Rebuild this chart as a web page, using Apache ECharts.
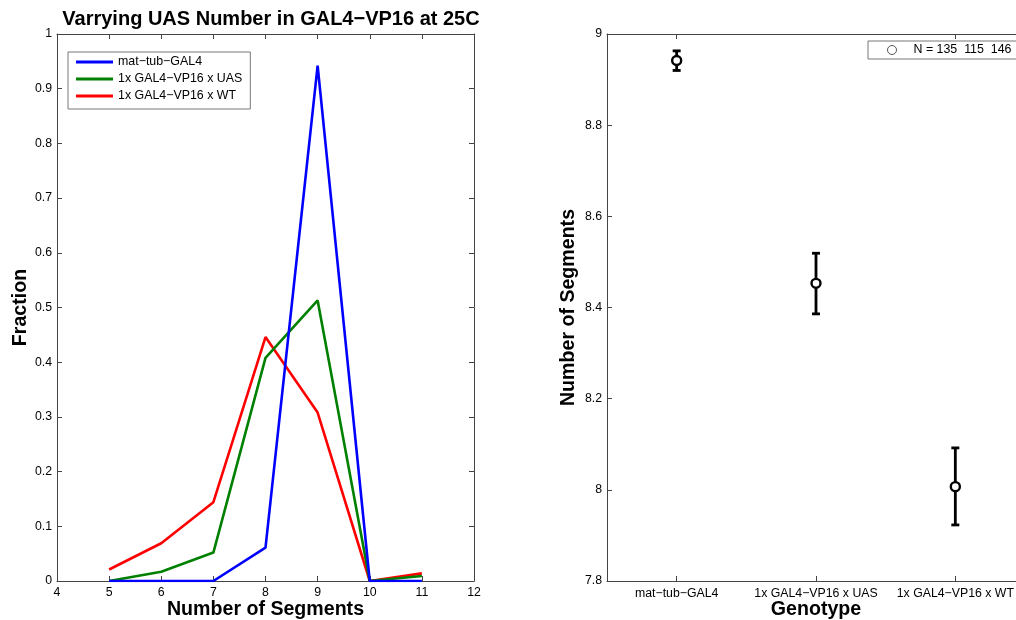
<!DOCTYPE html>
<html><head><meta charset="utf-8">
<script src="https://cdn.jsdelivr.net/npm/echarts@6/dist/echarts.min.js"></script>
<style>html,body{margin:0;padding:0;background:#fff}#c{width:1016px;height:620px}</style>
</head><body><div id="c"></div>
<script>
const segments = [5, 6, 7, 8, 9, 10, 11];
const matTub = [0, 0, 0, 0.061, 0.942, 0, 0];
const uas = [0, 0.017, 0.052, 0.408, 0.513, 0, 0.009];
const wt = [0.021, 0.069, 0.144, 0.446, 0.308, 0, 0.014];
const seriesNames = ['mat−tub−GAL4', '1x GAL4−VP16 x UAS', '1x GAL4−VP16 x WT'];
const seriesColors = ['#0000ff', '#008000', '#ff0000'];
const genotypes = ['mat−tub−GAL4', '1x GAL4−VP16 x UAS', '1x GAL4−VP16 x WT'];
const meanSeg = [8.942, 8.453, 8.007];
const errLow = [8.920, 8.386, 7.923];
const errHigh = [8.963, 8.519, 8.092];
const nCounts = [135, 115, 146];

const FONT = '"Liberation Sans", Arial, Helvetica, sans-serif';
const axisCol = '#444';
const nLabel = 'N = ' + nCounts.join('  ');
const fmt = v => String(+(+v).toFixed(1));

function frameAxis(extra) {
  return Object.assign({
    axisLine: { show: true, onZero: false, lineStyle: { color: axisCol, width: 1 } },
    axisTick: { show: true, inside: true, length: 5, lineStyle: { color: axisCol } },
    splitLine: { show: false },
    axisLabel: { show: false },
    nameMoveOverlap: false
  }, extra);
}
const labelStyle = { show: true, color: '#000', fontSize: 12.3, fontFamily: FONT };
const nameStyle = { color: '#000', fontSize: 19.6, fontWeight: 'bold', fontFamily: FONT };

const chart = echarts.init(document.getElementById('c'), null, { renderer: 'canvas' });
const lineData = [matTub, uas, wt];

chart.setOption({
  backgroundColor: '#fff',
  animation: false,
  textStyle: { fontFamily: FONT },
  title: {
    text: 'Varrying UAS Number in GAL4−VP16 at 25C',
    left: 266, top: 4, textAlign: 'center',
    textStyle: { fontSize: 20, fontWeight: 'bold', color: '#000', fontFamily: FONT }
  },
  grid: [
    { left: 57, top: 34, width: 417, height: 547, outerBoundsMode: 'none', containLabel: false },
    { left: 607, top: 34, width: 418, height: 547, outerBoundsMode: 'none', containLabel: false }
  ],
  legend: [
    {
      data: seriesNames.map(n => ({ name: n })),
      orient: 'vertical', left: 68, top: 52,
      padding: [3, 8, 6, 8], itemGap: 3,
      icon: 'rect', itemWidth: 37, itemHeight: 3,
      borderColor: '#777', borderWidth: 1, backgroundColor: '#fff',
      textStyle: { fontSize: 12.4, color: '#000', fontFamily: FONT, lineHeight: 14 }
    },
    {
      data: [{ name: nLabel, icon: 'circle', itemStyle: { color: '#fff', borderColor: '#555', borderWidth: 1 } }],
      left: 868, top: 41,
      padding: [2, 10, 2, 19],
      itemWidth: 9, itemHeight: 9,
      borderColor: '#777', borderWidth: 1, backgroundColor: '#fff',
      textStyle: { fontSize: 12.4, color: '#000', fontFamily: FONT, lineHeight: 14, padding: [0, 0, 0, 12] }
    }
  ],
  xAxis: [
    frameAxis({ gridIndex: 0, type: 'value', position: 'bottom', min: 4, max: 12, interval: 1,
      axisLabel: Object.assign({}, labelStyle, { margin: 6 }),
      name: 'Number of Segments', nameLocation: 'middle', nameGap: 19, nameTextStyle: nameStyle }),
    frameAxis({ gridIndex: 0, type: 'value', position: 'top', min: 4, max: 12, interval: 1 }),
    frameAxis({ gridIndex: 1, type: 'category', position: 'bottom', data: genotypes, boundaryGap: true,
      axisTick: { show: true, inside: true, length: 5, alignWithLabel: true, lineStyle: { color: axisCol } },
      axisLabel: Object.assign({}, labelStyle, { margin: 7, interval: 0 }),
      name: 'Genotype', nameLocation: 'middle', nameGap: 19, nameTextStyle: nameStyle }),
    frameAxis({ gridIndex: 1, type: 'category', position: 'top', data: genotypes, boundaryGap: true,
      axisTick: { show: true, inside: true, length: 5, alignWithLabel: true, lineStyle: { color: axisCol } } })
  ],
  yAxis: [
    frameAxis({ gridIndex: 0, type: 'value', position: 'left', min: 0, max: 1, interval: 0.1,
      axisLabel: Object.assign({}, labelStyle, { margin: 5, formatter: fmt }),
      name: 'Fraction', nameLocation: 'middle', nameGap: 26, nameTextStyle: nameStyle }),
    frameAxis({ gridIndex: 0, type: 'value', position: 'right', min: 0, max: 1, interval: 0.1 }),
    frameAxis({ gridIndex: 1, type: 'value', position: 'left', min: 7.8, max: 9, interval: 0.2,
      axisLabel: Object.assign({}, labelStyle, { margin: 5, formatter: fmt }),
      name: 'Number of Segments', nameLocation: 'middle', nameGap: 28, nameTextStyle: nameStyle }),
    frameAxis({ gridIndex: 1, type: 'value', position: 'right', min: 7.8, max: 9, interval: 0.2 })
  ],
  series: lineData.map((arr, i) => ({
    name: seriesNames[i], type: 'line', xAxisIndex: 0, yAxisIndex: 0,
    data: segments.map((s, j) => [s, arr[j]]),
    showSymbol: false, symbol: 'none',
    lineStyle: { color: seriesColors[i], width: 2.6 },
    itemStyle: { color: seriesColors[i] },
    z: 3 + (2 - i)
  })).concat([
    {
      name: 'errorbars', type: 'custom', xAxisIndex: 2, yAxisIndex: 2,
      data: genotypes.map((g, i) => [i, errLow[i], errHigh[i]]),
      encode: { x: 0, y: [1, 2] },
      renderItem: function (params, api) {
        const x = api.value(0);
        const lo = api.coord([x, api.value(1)]);
        const hi = api.coord([x, api.value(2)]);
        const cw = 4;
        const st = { stroke: '#000', lineWidth: 2.8 };
        return {
          type: 'group', children: [
            { type: 'line', shape: { x1: lo[0], y1: lo[1], x2: hi[0], y2: hi[1] }, style: st },
            { type: 'line', shape: { x1: lo[0] - cw, y1: lo[1], x2: lo[0] + cw, y2: lo[1] }, style: st },
            { type: 'line', shape: { x1: hi[0] - cw, y1: hi[1], x2: hi[0] + cw, y2: hi[1] }, style: st }
          ]
        };
      },
      z: 5
    },
    {
      name: nLabel, type: 'scatter', xAxisIndex: 2, yAxisIndex: 2,
      data: meanSeg.map((v, i) => [i, v]),
      symbol: 'circle', symbolSize: 9,
      itemStyle: { color: '#fff', borderColor: '#000', borderWidth: 2.4, opacity: 1 },
      z: 6
    }
  ])
});
</script>
</body></html>
